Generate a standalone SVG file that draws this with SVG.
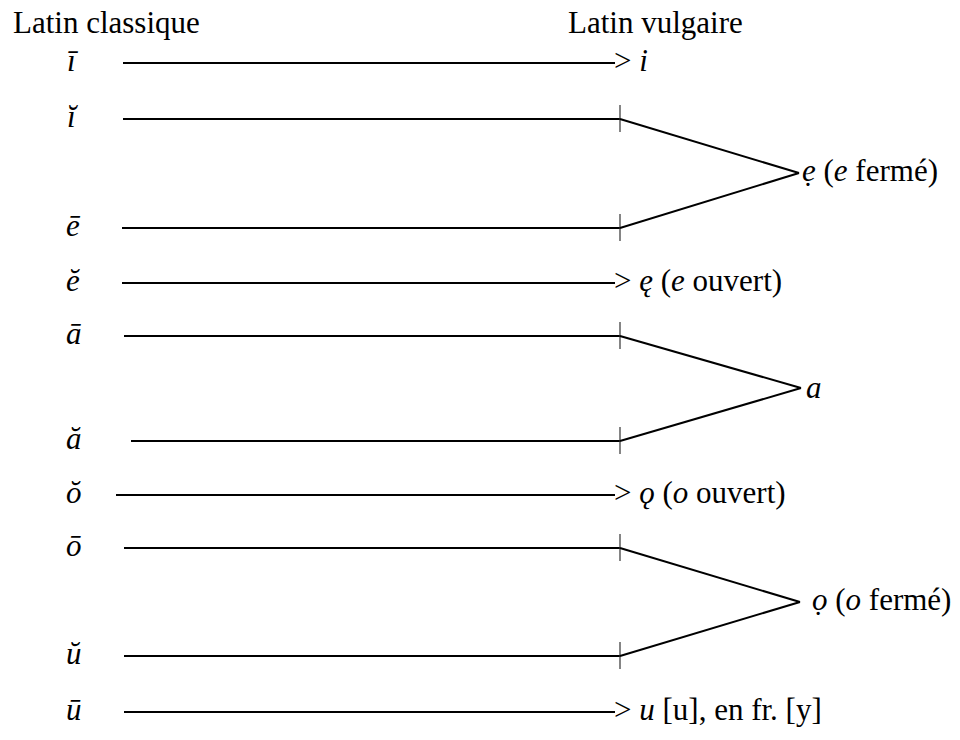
<svg xmlns="http://www.w3.org/2000/svg" width="960" height="740" viewBox="0 0 960 740">
<style>
text{font-family:'Liberation Serif',Tinos,'Times New Roman',serif;font-size:31px;fill:#000}
.it{font-style:italic}
.ln{stroke:#000;stroke-width:2;fill:none}
.tk{stroke:#333;stroke-width:1.2;fill:none}
</style>
<rect width="960" height="740" fill="#fff"/>
<g id="headers">
<text x="13" y="33">Latin classique</text>
<text x="568" y="33">Latin vulgaire</text>
</g>
<g id="src-i-long"><text class="it" x="67" y="71">ī</text></g>
<g id="src-i-short"><text class="it" x="67" y="127">ĭ</text></g>
<g id="src-e-long"><text class="it" x="66" y="236">ē</text></g>
<g id="src-e-short"><text class="it" x="66" y="291">ĕ</text></g>
<g id="src-a-long"><text class="it" x="66" y="344">ā</text></g>
<g id="src-a-short"><text class="it" x="66" y="449">ă</text></g>
<g id="src-o-short"><text class="it" x="66" y="503">ŏ</text></g>
<g id="src-o-long"><text class="it" x="66" y="556">ō</text></g>
<g id="src-u-short"><text class="it" x="66" y="664">ŭ</text></g>
<g id="src-u-long"><text class="it" x="66" y="720">ū</text></g>

<g id="tgt-i"><text x="614" y="71">&gt; <tspan class="it">i</tspan></text></g>
<g id="tgt-e-ferme"><text x="802" y="181"><tspan class="it">ẹ</tspan> (<tspan class="it">e</tspan> fermé)</text></g>
<g id="tgt-e-ouvert"><text x="614" y="291">&gt; <tspan class="it">ę</tspan> (<tspan class="it">e</tspan> ouvert)</text></g>
<g id="tgt-a"><text class="it" x="806" y="398">a</text></g>
<g id="tgt-o-ouvert"><text x="614" y="503">&gt; <tspan class="it">ǫ</tspan> (<tspan class="it">o</tspan> ouvert)</text></g>
<g id="tgt-o-ferme"><text x="812" y="610"><tspan class="it">ọ</tspan> (<tspan class="it">o</tspan> fermé)</text></g>
<g id="tgt-u"><text x="614" y="720">&gt; <tspan class="it">u</tspan> [u], en fr. [y]</text></g>

<g id="connectors">
<line class="ln" x1="123" y1="63" x2="615" y2="63"/>
<line class="ln" x1="123" y1="119" x2="620" y2="119"/>
<line class="ln" x1="122" y1="228" x2="620" y2="228"/>
<line class="ln" x1="122" y1="283" x2="615" y2="283"/>
<line class="ln" x1="124" y1="336" x2="620" y2="336"/>
<line class="ln" x1="131" y1="441" x2="620" y2="441"/>
<line class="ln" x1="116" y1="495" x2="615" y2="495"/>
<line class="ln" x1="124" y1="548" x2="620" y2="548"/>
<line class="ln" x1="124" y1="656" x2="620" y2="656"/>
<line class="ln" x1="124" y1="712" x2="615" y2="712"/>
<line class="tk" x1="620" y1="105" x2="620" y2="132"/>
<line class="tk" x1="620" y1="214" x2="620" y2="241"/>
<line class="tk" x1="620" y1="322" x2="620" y2="349"/>
<line class="tk" x1="620" y1="427" x2="620" y2="454"/>
<line class="tk" x1="620" y1="534" x2="620" y2="561"/>
<line class="tk" x1="620" y1="642" x2="620" y2="669"/>
<line class="ln" x1="620" y1="119" x2="799" y2="173"/>
<line class="ln" x1="620" y1="228" x2="799" y2="173"/>
<line class="ln" x1="620" y1="336" x2="801" y2="388"/>
<line class="ln" x1="620" y1="441" x2="801" y2="388"/>
<line class="ln" x1="620" y1="548" x2="800" y2="602"/>
<line class="ln" x1="620" y1="656" x2="800" y2="602"/>
</g>
</svg>
